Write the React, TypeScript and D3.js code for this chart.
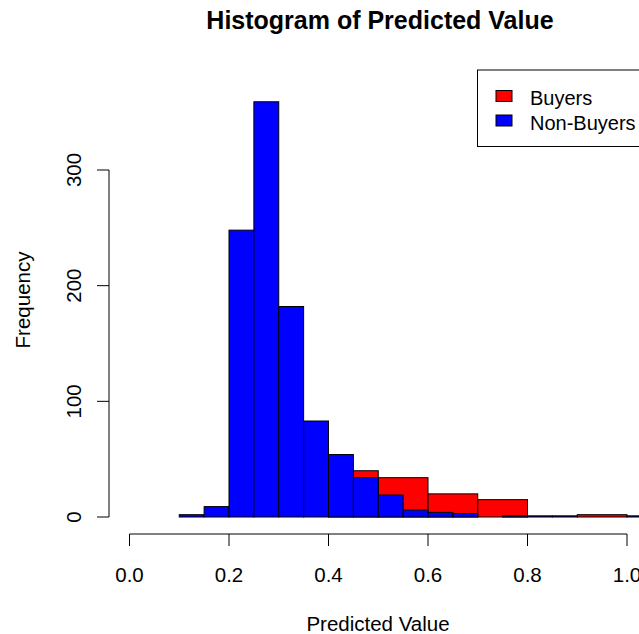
import React from "react";
import * as d3 from "d3";

// ---- data ----
const nonBuyerBinStarts = [0.10, 0.15, 0.20, 0.25, 0.30, 0.35, 0.40, 0.45, 0.50, 0.55, 0.60, 0.65, 0.70, 0.75, 0.80, 0.85, 0.90, 0.95, 1.00];
const nonBuyerCounts = [2, 9, 248, 359, 182, 83, 54, 34, 19, 6, 4, 3, 0, 1, 1, 1, 0, 0, 1];
const nonBuyerBinWidth = 0.05;

const buyerBinStarts = [0.4, 0.5, 0.6, 0.7, 0.8, 0.9];
const buyerCounts = [40, 34, 20, 15, 0, 2];
const buyerBinWidth = 0.1;

const xTicks = [0, 0.2, 0.4, 0.6, 0.8, 1.0];
const yTicks = [0, 100, 200, 300];
const legendLabels = ["Buyers", "Non-Buyers"];
const legendColors = ["#FF0000", "#0000FF"];

const W = 639;
const H = 634;
const FONT = "'Liberation Sans', Arial, Helvetica, sans-serif";

export default function App() {
  const x = d3.scaleLinear().domain([0, 1]).range([129.5, 627]);
  const y = d3.scaleLinear().domain([0, 300]).range([517, 170]);

  const red = buyerBinStarts.map((s, i) => ({ x0: s, x1: s + buyerBinWidth, c: buyerCounts[i] }));
  const blue = nonBuyerBinStarts.map((s, i) => ({ x0: s, x1: s + nonBuyerBinWidth, c: nonBuyerCounts[i] }));

  const axisY = 534;
  const axisX = 109;
  const tick = 12;

  return (
    <svg width={W} height={H} style={{ position: "absolute", left: 0, top: 0, background: "#fff" }} fontFamily={FONT}>
      <rect x={0} y={0} width={W} height={H} fill="#fff" />
      {/* title */}
      <text x={380} y={29} textAnchor="middle" fontWeight="bold" fontSize={25} fill="#000">
        Histogram of Predicted Value
      </text>

      {/* buyers (behind) */}
      {red.map((d, i) => (
        <rect key={"r" + i} x={x(d.x0)} y={y(d.c)} width={x(d.x1) - x(d.x0)} height={y(0) - y(d.c)}
          fill="#FF0000" stroke="#000" strokeWidth={1} />
      ))}
      {/* non-buyers (front) */}
      {blue.map((d, i) => (
        <rect key={"b" + i} x={x(d.x0)} y={y(d.c)} width={x(d.x1) - x(d.x0)} height={y(0) - y(d.c)}
          fill="#0000FF" stroke="#000" strokeWidth={1} />
      ))}

      {/* x axis */}
      <line x1={x(0)} x2={x(1)} y1={axisY} y2={axisY} stroke="#000" strokeWidth={1} />
      {xTicks.map((t) => (
        <g key={"xt" + t}>
          <line x1={x(t)} x2={x(t)} y1={axisY} y2={axisY + tick} stroke="#000" strokeWidth={1} />
          <text x={x(t)} y={582} textAnchor="middle" fontSize={20.5} fill="#000">{t.toFixed(1)}</text>
        </g>
      ))}
      <text x={378} y={631} textAnchor="middle" fontSize={20.5} fill="#000">Predicted Value</text>

      {/* y axis */}
      <line x1={axisX} x2={axisX} y1={y(0)} y2={y(300)} stroke="#000" strokeWidth={1} />
      {yTicks.map((t) => (
        <g key={"yt" + t}>
          <line x1={axisX - tick} x2={axisX} y1={y(t)} y2={y(t)} stroke="#000" strokeWidth={1} />
          <text transform={`translate(81,${y(t)}) rotate(-90)`} textAnchor="middle" fontSize={20.5} fill="#000">{t}</text>
        </g>
      ))}
      <text transform={`translate(30,300) rotate(-90)`} textAnchor="middle" fontSize={20.5} fill="#000">Frequency</text>

      {/* legend */}
      <rect x={477.5} y={70} width={200} height={76.5} fill="#fff" stroke="#000" strokeWidth={1} />
      {legendLabels.map((l, i) => (
        <g key={"lg" + i}>
          <rect x={496} y={90.5 + i * 24.5} width={16} height={11} fill={legendColors[i]} stroke="#000" strokeWidth={1} />
          <text x={530} y={105 + i * 24.5} fontSize={20} fill="#000">{l}</text>
        </g>
      ))}
    </svg>
  );
}
